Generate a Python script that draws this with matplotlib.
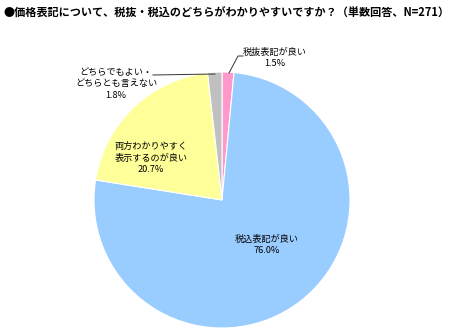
import matplotlib.pyplot as plt

plt.rcParams['font.family'] = ['Noto Sans CJK JP', 'DejaVu Sans']

title = '●価格表記について、税抜・税込のどちらがわかりやすいですか？（単数回答、N=271）'
categories = ['税抜表記が良い', '税込表記が良い', '両方わかりやすく\n表示するのが良い', 'どちらでもよい・\nどちらとも言えない']
values = [1.5, 76.0, 20.7, 1.8]
colors = ['#FF99CC', '#99CCFF', '#FFFF99', '#C0C0C0']

W, H = 452, 335
fig = plt.figure(figsize=(W / 100, H / 100), dpi=100)
ax = fig.add_axes([0, 0, 1, 1])

cx, cy, r = 222, H - 200, 128
ax.pie(values, colors=colors, startangle=90, counterclock=False,
       center=(cx, cy), radius=r, frame=True,
       wedgeprops=dict(edgecolor='white', linewidth=0.8))
ax.set_xlim(0, W)
ax.set_ylim(0, H)
ax.set_aspect('equal')
ax.axis('off')

fig.text(4 / W, 1 - 13 / H, title, fontsize=8, fontweight='bold', va='center', ha='left')

fs = 6.6
labels = [f'{c}\n{v:.1f}%' for c, v in zip(categories, values)]
# label positions in pixel coords (from top-left)
pos = [(275, 58), (267, 245), (151, 158), (116, 84)]
for (x, y), lab in zip(pos, labels):
    ax.text(x, H - y, lab, fontsize=fs, ha='center', va='center', linespacing=1.3)

# leader lines
ax.plot([229, 238, 243], [H - 73, H - 56, H - 56], color='#333333', lw=0.7)
ax.plot([153, 215], [H - 75, H - 74], color='#333333', lw=0.7)

fig.savefig('out.png', dpi=100)
